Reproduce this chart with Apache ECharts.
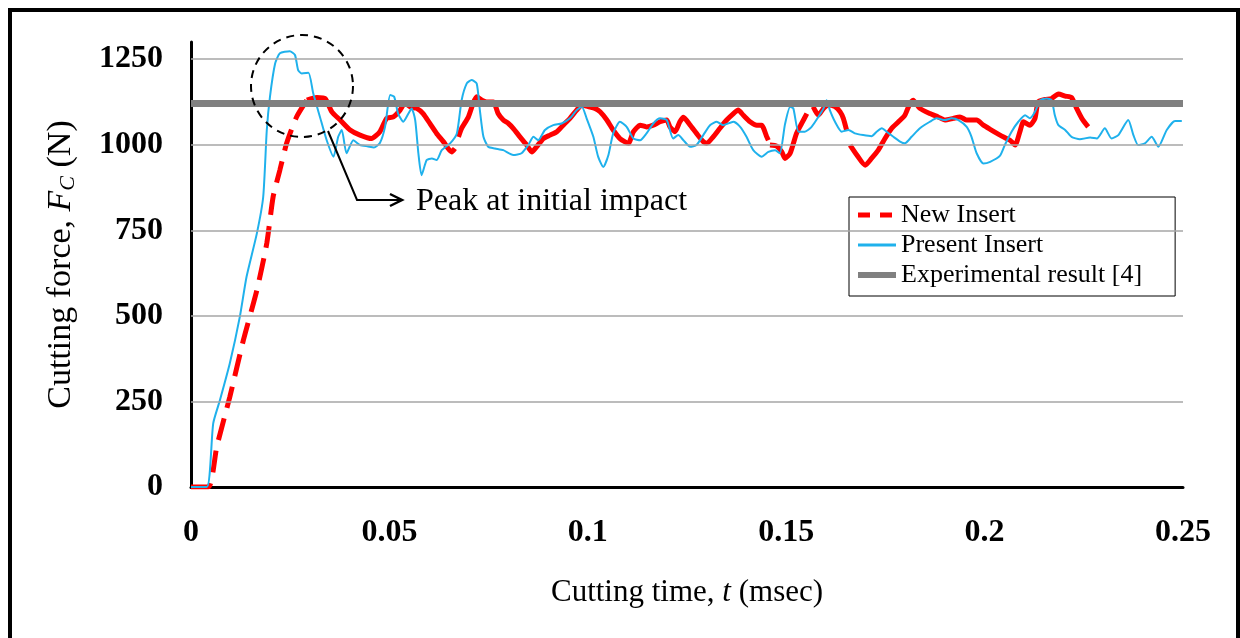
<!DOCTYPE html>
<html>
<head>
<meta charset="utf-8">
<script src="https://cdn.jsdelivr.net/npm/echarts@6/dist/echarts.min.js"></script>
<style>
  html, body { margin: 0; padding: 0; background: #fff; }
  #chart { width: 1240px; height: 638px; }
</style>
</head>
<body>
<div id="chart"></div>
<script>
// tick values of the force axis (N)
const yTicks = [250, 500, 750, 1000, 1250];
const experimentalForce = 1120;

// New Insert: rising part (dashed), time in msec, force in N
const newInsertRise = [
  [0, 0], [0.0044, 0], [0.0065, 118], [0.0098, 264], [0.0132, 429], [0.0166, 575],
  [0.0191, 712], [0.0207, 848], [0.0224, 926], [0.0241, 1004], [0.0266, 1081], [0.0292, 1130]
];

// New Insert: after the peak (solid), null = gap in the trace
const newInsertSteady = [
  [0.0292, 1130], [0.0317, 1138], [0.0338, 1135], [0.0355, 1096], [0.0376, 1072], [0.0401, 1043],
  [0.0426, 1028], [0.0455, 1018], [0.0476, 1038], [0.0493, 1077], [0.0510, 1081], [0.0527, 1101],
  [0.0539, 1121], [0.0552, 1111], [0.0569, 1106], [0.0585, 1091], [0.0602, 1062], [0.0619, 1033],
  [0.0636, 1009], [0.0648, 989], [0.0657, 979], [0.0665, 989], [0.0670, null],
  [0.0674, 1023], [0.0682, 1048], [0.0699, 1081], [0.0711, 1121], [0.0720, 1140], [0.0733, 1130],
  [0.0745, 1125], [0.0762, 1125], [0.0774, 1091], [0.0787, 1072], [0.0800, 1062], [0.0812, 1048],
  [0.0829, 1023], [0.0846, 999], [0.0859, 979], [0.0871, 994], [0.0888, 1018], [0.0905, 1028],
  [0.0922, 1038], [0.0938, 1057], [0.0955, 1077], [0.0972, 1101], [0.0985, 1116], [0.1001, 1111],
  [0.1018, 1106], [0.1031, 1096], [0.1048, 1072], [0.1064, 1043], [0.1081, 1018], [0.1102, 1004],
  [0.1115, 1038], [0.1132, 1057], [0.1148, 1052], [0.1165, 1057], [0.1182, 1067], [0.1199, 1072],
  [0.1207, 1052], [0.1220, 1038], [0.1232, 1067], [0.1241, 1080], [0.1258, 1057], [0.1274, 1033],
  [0.1291, 1009], [0.1300, 1004], [0.1316, 1023], [0.1333, 1048], [0.1350, 1072], [0.1367, 1091],
  [0.1379, 1101], [0.1392, 1086], [0.1409, 1067], [0.1426, 1057], [0.1438, 1057], [0.1451, 1023],
  [0.1455, 1013], [0.1457, null],
  [0.1459, 999], [0.1476, 996], [0.1489, 979], [0.1497, 960], [0.1510, 975], [0.1526, 1033],
  [0.1539, 1062], [0.1552, 1091], [0.1560, null],
  [0.1568, 1111], [0.1581, 1086], [0.1594, 1106], [0.1606, 1116], [0.1623, 1111], [0.1636, 1096],
  [0.1644, 1077], [0.1652, 1043], [0.1656, null],
  [0.1661, 999], [0.1678, 970], [0.1699, 940], [0.1715, 960], [0.1732, 984], [0.1749, 1018],
  [0.1766, 1048], [0.1783, 1067], [0.1799, 1086], [0.1812, 1121], [0.1820, 1130], [0.1837, 1106],
  [0.1862, 1091], [0.1883, 1081], [0.1900, 1072], [0.1921, 1077], [0.1938, 1081], [0.1955, 1072],
  [0.1980, 1072], [0.1997, 1057], [0.2014, 1045], [0.2039, 1028], [0.2064, 1013], [0.2077, 999],
  [0.2089, 1038], [0.2098, 1067], [0.2114, 1057], [0.2127, 1077], [0.2135, 1125], [0.2152, 1132],
  [0.2169, 1135], [0.2186, 1148], [0.2203, 1142], [0.2219, 1138], [0.2232, 1106], [0.2245, 1077],
  [0.2261, 1052]
];

// Present Insert
const presentInsert = [
  [0, 0], [0.0040, 0], [0.0056, 186], [0.0073, 254], [0.0098, 362], [0.0123, 497], [0.0140, 614],
  [0.0166, 741], [0.0182, 848], [0.0191, 1043], [0.0199, 1140], [0.0212, 1237], [0.0224, 1267],
  [0.0249, 1273], [0.0262, 1262], [0.0270, 1218], [0.0279, 1208], [0.0296, 1210], [0.0308, 1150],
  [0.0325, 1081], [0.0342, 1013], [0.0359, 965], [0.0371, 1023], [0.0380, 1043], [0.0392, 975],
  [0.0409, 1013], [0.0426, 999], [0.0446, 995], [0.0461, 992], [0.0476, 1005], [0.0489, 1052],
  [0.0502, 1145], [0.0512, 1140], [0.0522, 1091], [0.0535, 1067], [0.0548, 1091], [0.0556, 1106],
  [0.0565, 1072], [0.0573, 975], [0.0581, 911], [0.0594, 955], [0.0607, 960], [0.0619, 955],
  [0.0632, 984], [0.0653, 1004], [0.0670, 1033], [0.0682, 1130], [0.0695, 1179], [0.0707, 1189],
  [0.0720, 1179], [0.0728, 1101], [0.0737, 1023], [0.0749, 994], [0.0766, 989], [0.0787, 984],
  [0.0812, 970], [0.0833, 975], [0.0850, 999], [0.0863, 1023], [0.0875, 1013], [0.0892, 1043],
  [0.0913, 1057], [0.0934, 1062], [0.0955, 1077], [0.0972, 1101], [0.0985, 1111], [0.0997, 1077],
  [0.1014, 1023], [0.1026, 965], [0.1039, 935], [0.1052, 970], [0.1064, 1033], [0.1081, 1067],
  [0.1098, 1052], [0.1115, 1018], [0.1132, 1013], [0.1148, 1033], [0.1165, 1062], [0.1182, 1077],
  [0.1199, 1072], [0.1215, 1018], [0.1228, 1028], [0.1241, 1013], [0.1258, 994], [0.1274, 999],
  [0.1291, 1028], [0.1308, 1057], [0.1325, 1067], [0.1341, 1057], [0.1367, 1067], [0.1384, 1052],
  [0.1400, 1023], [0.1417, 984], [0.1438, 965], [0.1455, 979], [0.1472, 984], [0.1484, 975],
  [0.1497, 1060], [0.1510, 1111], [0.1518, 1106], [0.1531, 1038], [0.1547, 1038], [0.1564, 1052],
  [0.1581, 1081], [0.1594, 1106], [0.1602, 1130], [0.1610, 1101], [0.1623, 1067], [0.1640, 1038],
  [0.1657, 1043], [0.1673, 1033], [0.1694, 1028], [0.1715, 1025], [0.1728, 1038], [0.1741, 1048],
  [0.1753, 1038], [0.1770, 1023], [0.1787, 1009], [0.1799, 1004], [0.1816, 1023], [0.1837, 1048],
  [0.1862, 1067], [0.1879, 1077], [0.1900, 1072], [0.1917, 1077], [0.1934, 1072], [0.1955, 1052],
  [0.1967, 1023], [0.1980, 975], [0.1997, 945], [0.2014, 950], [0.2039, 968], [0.2051, 999],
  [0.2068, 1038], [0.2085, 1067], [0.2102, 1086], [0.2114, 1077], [0.2127, 1096], [0.2140, 1130],
  [0.2156, 1135], [0.2169, 1130], [0.2177, 1086], [0.2186, 1057], [0.2203, 1043], [0.2219, 1023],
  [0.2240, 1016], [0.2266, 1021], [0.2283, 1018], [0.2303, 1048], [0.2320, 1018], [0.2337, 1028],
  [0.2362, 1072], [0.2375, 1028], [0.2387, 999], [0.2404, 1004], [0.2421, 1023], [0.2438, 994],
  [0.2459, 1043], [0.2480, 1069], [0.2497, 1069]
];

const serif = 'Liberation Serif, Times New Roman, serif';

let myChart = echarts.init(document.getElementById('chart'));
let option = {
  animation: false,
  backgroundColor: '#fff',
  grid: { left: 191, right: 57, top: 42, bottom: 151 },
  legend: {
    orient: 'vertical',
    left: 849,
    top: 197,
    data: [
      { name: 'New Insert', lineStyle: { width: 5, type: [12, 10] } },
      { name: 'Present Insert', lineStyle: { width: 3 } },
      { name: 'Experimental result [4]', lineStyle: { width: 6 } }
    ],
    itemWidth: 38,
    itemHeight: 14,
    itemGap: 4,
    padding: [5, 33, 8, 6],
    borderColor: '#000',
    borderWidth: 1,
    backgroundColor: '#fff',
    itemStyle: { opacity: 0 },
    lineStyle: { width: 'inherit' },
    textStyle: { fontFamily: serif, fontSize: 26, color: '#000', lineHeight: 26 }
  },
  xAxis: {
    type: 'value',
    min: 0,
    max: 0.25,
    interval: 0.05,
    name: 'Cutting time, {i|t} (msec)',
    nameLocation: 'middle',
    nameGap: 90,
    nameTextStyle: {
      fontFamily: serif, fontSize: 31, color: '#000',
      rich: { i: { fontFamily: serif, fontSize: 31, fontStyle: 'italic', color: '#000' } }
    },
    axisLine: { lineStyle: { color: '#000', width: 3 } },
    axisTick: { show: false },
    splitLine: { show: false },
    axisLabel: { fontFamily: serif, fontSize: 32, fontWeight: 'bold', color: '#000', margin: 30 }
  },
  yAxis: {
    type: 'value',
    min: 0,
    max: 1300,
    interval: 250,
    name: 'Cutting force, {i|F}{s|C} (N)',
    nameLocation: 'middle',
    nameGap: 112,
    nameRotate: 90,
    nameTextStyle: {
      fontFamily: serif, fontSize: 34, color: '#000',
      rich: {
        i: { fontFamily: serif, fontSize: 34, fontStyle: 'italic', color: '#000' },
        s: { fontFamily: serif, fontSize: 22, fontStyle: 'italic', color: '#000', padding: [14, 0, 0, 0] }
      }
    },
    axisLine: { show: true, lineStyle: { color: '#000', width: 3 } },
    axisTick: { show: false },
    splitLine: { show: false },
    axisLabel: {
      fontFamily: serif, fontSize: 32, fontWeight: 'bold', color: '#000', margin: 28,
      showMaxLabel: false,
      formatter: v => String(v)
    }
  },
  series: [
    {
      name: 'grid',
      type: 'line',
      data: [],
      z: 1,
      silent: true,
      markLine: {
        silent: true,
        symbol: 'none',
        label: { show: false },
        lineStyle: { color: '#a6a6a6', width: 1.5, type: 'solid' },
        data: yTicks.map(v => ({ yAxis: v }))
      }
    },
    {
      name: 'New Insert',
      type: 'line',
      data: newInsertRise,
      symbol: 'none',
      smooth: 0.2,
      z: 3,
      lineStyle: { color: '#ff0000', width: 5, type: [22, 11] },
      itemStyle: { color: '#ff0000' }
    },
    {
      name: 'New Insert (cont.)',
      type: 'line',
      data: newInsertSteady,
      symbol: 'none',
      smooth: 0.2,
      connectNulls: false,
      z: 3,
      lineStyle: { color: '#ff0000', width: 5 },
      itemStyle: { color: '#ff0000' }
    },
    {
      name: 'Present Insert',
      type: 'line',
      data: presentInsert,
      symbol: 'none',
      smooth: 0.2,
      z: 4,
      lineStyle: { color: '#1fb1ec', width: 2 },
      itemStyle: { color: '#1fb1ec' }
    },
    {
      name: 'Experimental result [4]',
      type: 'line',
      data: [[0, experimentalForce], [0.25, experimentalForce]],
      symbol: 'none',
      z: 5,
      lineStyle: { color: '#808080', width: 7 },
      itemStyle: { color: '#808080' }
    }
  ],
  graphic: [
    {
      type: 'rect',
      shape: { x: 10, y: 10, width: 1228, height: 700 },
      style: { fill: 'none', stroke: '#000', lineWidth: 4 },
      silent: true
    },
    {
      type: 'circle',
      shape: { cx: 302, cy: 86, r: 51 },
      style: { fill: 'none', stroke: '#000', lineWidth: 2, lineDash: [8, 6] },
      z: 10
    },
    {
      type: 'polyline',
      shape: { points: [[328, 131], [357, 200], [401, 200]] },
      style: { fill: 'none', stroke: '#000', lineWidth: 2 },
      z: 10
    },
    {
      type: 'polyline',
      shape: { points: [[390, 194], [402, 200], [390, 206]] },
      style: { fill: 'none', stroke: '#000', lineWidth: 2.5 },
      z: 10
    },
    {
      type: 'text',
      x: 416,
      y: 202,
      style: {
        text: 'Peak at initial impact',
        font: '32px ' + serif,
        fill: '#000',
        verticalAlign: 'middle'
      },
      z: 10
    }
  ]
};
option && myChart.setOption(option);
</script>
</body>
</html>
